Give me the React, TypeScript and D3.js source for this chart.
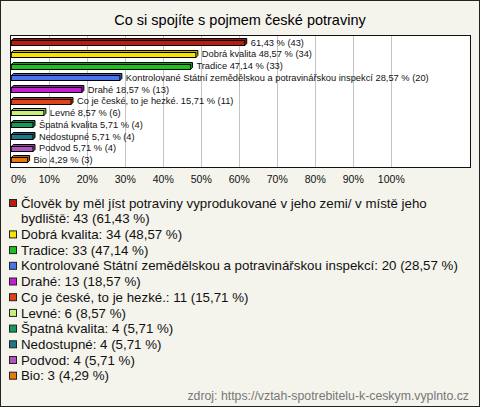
import React from "react";
import * as d3 from "d3";

const categories = [
  "Člověk by měl jíst potraviny vyprodukované v jeho zemi/ v místě jeho bydliště",
  "Dobrá kvalita",
  "Tradice",
  "Kontrolované Státní zemědělskou a potravinářskou inspekcí",
  "Drahé",
  "Co je české, to je hezké.",
  "Levné",
  "Špatná kvalita",
  "Nedostupné",
  "Podvod",
  "Bio",
];
const counts = [43, 34, 33, 20, 13, 11, 6, 4, 4, 4, 3];
const percents = [61.43, 48.57, 47.14, 28.57, 18.57, 15.71, 8.57, 5.71, 5.71, 5.71, 4.29];
const colors = [
  "#b91d0d", "#f5e400", "#1cc21c", "#4a73ee", "#c31fd0", "#e2421a",
  "#c6f07a", "#17995c", "#1d7889", "#b155be", "#e67a0b",
];
const barLabels = [
  "61,43 % (43)",
  "Dobrá kvalita 48,57 % (34)",
  "Tradice 47,14 % (33)",
  "Kontrolované Státní zemědělskou a potravinářskou inspekcí 28,57 % (20)",
  "Drahé 18,57 % (13)",
  "Co je české, to je hezké. 15,71 % (11)",
  "Levné 8,57 % (6)",
  "Špatná kvalita 5,71 % (4)",
  "Nedostupné 5,71 % (4)",
  "Podvod 5,71 % (4)",
  "Bio 4,29 % (3)",
];
const legendLines = [
  ["Člověk by měl jíst potraviny vyprodukované v jeho zemi/ v místě jeho", "bydliště: 43 (61,43 %)"],
  ["Dobrá kvalita: 34 (48,57 %)"],
  ["Tradice: 33 (47,14 %)"],
  ["Kontrolované Státní zemědělskou a potravinářskou inspekcí: 20 (28,57 %)"],
  ["Drahé: 13 (18,57 %)"],
  ["Co je české, to je hezké.: 11 (15,71 %)"],
  ["Levné: 6 (8,57 %)"],
  ["Špatná kvalita: 4 (5,71 %)"],
  ["Nedostupné: 4 (5,71 %)"],
  ["Podvod: 4 (5,71 %)"],
  ["Bio: 3 (4,29 %)"],
];
const ticks = [0, 10, 20, 30, 40, 50, 60, 70, 80, 90, 100];
const title = "Co si spojíte s pojmem české potraviny";
const source = "zdroj: https://vztah-spotrebitelu-k-ceskym.vyplnto.cz";

const W = 480;
const H = 407;
const FONT = "'Liberation Sans', Arial, sans-serif";

export default function App() {
  const x = d3.scaleLinear().domain([0, 100]).range([11.3, 391.3]);
  const y = d3
    .scaleBand<number>()
    .domain(d3.range(categories.length))
    .range([35.5, 167])
    .paddingInner(0.5)
    .paddingOuter(0.35);
  const plotL = 10.5, plotR = 470.5, plotT = 35.5, plotB = 167.5;
  const bh = 5;
  const off = 2;

  let ly = 203;
  const legendPos: { y: number[]; i: number }[] = [];
  legendLines.forEach((lines, i) => {
    const ys: number[] = [];
    lines.forEach(() => {
      ys.push(ly);
      ly += 15.7;
    });
    legendPos.push({ y: ys, i });
  });

  return (
    <svg width={W} height={H} style={{ position: "absolute", left: 0, top: 0, display: "block" }}>
      <rect x={0.5} y={0.5} width={W - 1} height={H - 1} fill="#f4f3ec" stroke="#222" />
      <text x={240} y={25} textAnchor="middle" fontFamily={FONT} fontSize={14.5} fill="#000">
        {title}
      </text>
      <rect x={plotL} y={plotT} width={plotR - plotL} height={plotB - plotT} fill="#fff" />
      {ticks.slice(1).map((t) => (
        <line key={t} x1={Math.round(x(t)) + 0.5} x2={Math.round(x(t)) + 0.5} y1={plotT} y2={plotB} stroke="#c4c4c4" />
      ))}
      <rect x={plotL} y={plotT} width={plotR - plotL} height={plotB - plotT} fill="none" stroke="#111" />
      {percents.map((p, i) => {
        const cy = (y(i) as number) + y.bandwidth() / 2;
        const x0 = x(0);
        const x1 = x(p);
        const top = Math.round(cy - bh / 2) + 0.5;
        const dark = d3.color(colors[i])!.darker(0.6).toString();
        return (
          <g key={i}>
            <path
              d={`M${x0},${top} L${x0 + off},${top - off} L${x1 + off},${top - off} L${x1 + off},${top - off + bh} L${x1},${top + bh} Z`}
              fill={dark}
              stroke="#000"
              strokeWidth={1}
            />
            <rect x={x0} y={top} width={x1 - x0} height={bh} fill={colors[i]} stroke="#000" strokeWidth={1} />
            <text x={x1 + 6} y={cy + 3.2} fontFamily={FONT} fontSize={9.3} fill="#111">
              {barLabels[i]}
            </text>
          </g>
        );
      })}
      {ticks.map((t) => (
        <text key={t} x={t === 0 ? 18.5 : x(t)} y={183} textAnchor="middle" fontFamily={FONT} fontSize={10.5} fill="#111">
          {t}%
        </text>
      ))}
      {legendPos.map(({ y: ys, i }) => (
        <g key={i}>
          <rect x={9.5} y={ys[0] - 3.5} width={7} height={7} fill={colors[i]} stroke="#222" />
          {ys.map((yy, k) => (
            <text key={k} x={21} y={yy + 4.6} fontFamily={FONT} fontSize={13.3} fill="#111">
              {legendLines[i][k]}
            </text>
          ))}
        </g>
      ))}
      <text x={469} y={399.5} textAnchor="end" fontFamily={FONT} fontSize={12.3} fill="#777">
        {source}
      </text>
    </svg>
  );
}
